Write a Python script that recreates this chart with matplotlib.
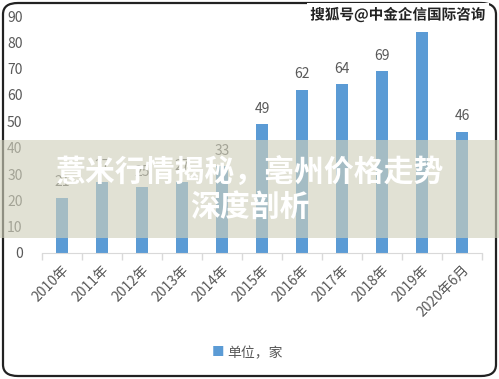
import matplotlib
matplotlib.use("Agg")
import matplotlib.pyplot as plt
from matplotlib.patches import FancyBboxPatch, Rectangle
import matplotlib.patheffects as pe

plt.rcParams["font.family"] = ["Noto Sans CJK SC", "DejaVu Sans"]

years = ["2010年", "2011年", "2012年", "2013年", "2014年", "2015年",
         "2016年", "2017年", "2018年", "2019年", "2020年6月"]
counts = [21, 27, 25, 27, 33, 49, 62, 64, 69, 84, 46]
yticks = [0, 10, 20, 30, 40, 50, 60, 70, 80, 90]
legend_label = "单位，家"
title_line1 = "薏米行情揭秘，亳州价格走势"
title_line2 = "深度剖析"
watermark = "搜狐号@中金企信国际咨询"

W, H = 499, 379
fig = plt.figure(figsize=(W / 100, H / 100), dpi=100)
fig.patch.set_facecolor("white")

# axes placed in pixel terms (0 at y=253, 90 at y=16)
ax = fig.add_axes([42 / W, (H - 253) / H, 440 / W, 237 / H])
ax.set_facecolor("none")
GRAY = "#595959"
BLUE = "#5B9BD5"

x = list(range(len(years)))
bars = ax.bar(x, counts, width=0.3, color=BLUE, zorder=2)
for b, v in zip(bars, counts):
    ax.text(b.get_x() + b.get_width() / 2, v + 3.2, str(v),
            ha="center", va="bottom", fontsize=10, color=GRAY)

ax.set_xlim(-0.5, len(years) - 0.5)
ax.set_ylim(0, 90)
ax.set_yticks(yticks)
ax.tick_params(axis="y", length=0, pad=14, labelsize=10, labelcolor=GRAY)
ax.set_xticks(x)
ax.set_xticklabels(years, rotation=45, ha="right", rotation_mode="anchor",
                   fontsize=10, color=GRAY)
ax.tick_params(axis="x", length=0, pad=7)
ax.set_xticks([i - 0.5 for i in range(len(years) + 1)], minor=True)
ax.tick_params(axis="x", which="minor", length=5, color="#D9D9D9", width=1)
for s in ["top", "right", "left"]:
    ax.spines[s].set_visible(False)
ax.spines["bottom"].set_color("#D9D9D9")

# legend
fig.text(218 / W, 1 - 353 / H, "■", color=BLUE, fontsize=9,
         ha="center", va="center")
fig.text(227 / W, 1 - 353 / H, legend_label, color=GRAY, fontsize=10,
         ha="left", va="center")

# rounded frame
frame = FancyBboxPatch((3 / W, 3 / H), 493 / W, 373 / H,
                       boxstyle="round,pad=0,rounding_size=0.03",
                       transform=fig.transFigure, fill=False,
                       edgecolor="#222222", linewidth=1.6)
fig.add_artist(frame)

# watermark
fig.text(398 / W, 1 - 15 / H, watermark, fontsize=10.5, fontweight="bold",
         color="#222222", ha="center", va="center",
         bbox=dict(boxstyle="square,pad=0.25", facecolor="white", edgecolor="none"),
         path_effects=[pe.withStroke(linewidth=1.5, foreground="white")])

# overlay band with title
band = Rectangle((0, 1 - 238 / H), 1, 98 / H, transform=fig.transFigure,
                 facecolor=(208 / 255, 208 / 255, 187 / 255), alpha=0.63,
                 edgecolor="none", zorder=5)
fig.add_artist(band)
fig.text(0.5, 1 - 172 / H, title_line1, fontsize=21.5, fontweight="bold",
         color="white", ha="center", va="center", zorder=6)
fig.text(0.5, 1 - 207 / H, title_line2, fontsize=21.5, fontweight="bold",
         color="white", ha="center", va="center", zorder=6)

fig.savefig("out.png", dpi=100, facecolor="white")
